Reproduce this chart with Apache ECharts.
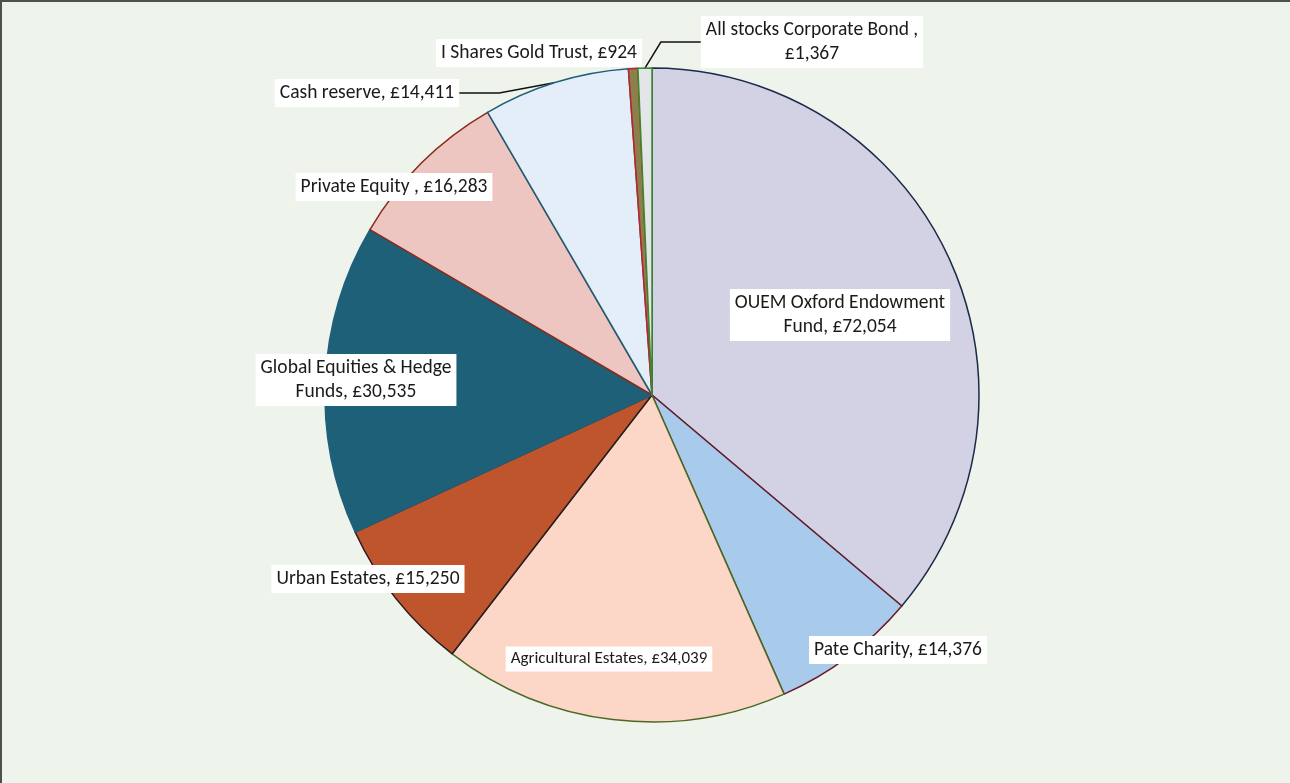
<!DOCTYPE html>
<html>
<head>
<meta charset="utf-8">
<title>Endowment holdings</title>
<script src="https://cdn.jsdelivr.net/npm/echarts@6/dist/echarts.min.js"></script>
<style>
    html, body { margin: 0; padding: 0; background: #eef4ec; }
    #chart {
        width: 1290px; height: 783px;
        border-top: 2px solid #4a524c;
        border-left: 2px solid #4a524c;
        box-sizing: border-box;
    }
</style>
</head>
<body>
<div id="chart"></div>
<script>
    // holdings, clockwise from 12 o'clock
    var names = [
        'OUEM Oxford Endowment\nFund',
        'Pate Charity',
        'Agricultural Estates',
        'Urban Estates',
        'Global Equities & Hedge\nFunds',
        'Private Equity ',
        'Cash reserve',
        'I Shares Gold Trust',
        'All stocks Corporate Bond ,\n'
    ]
    var values = [72054, 14376, 34039, 15250, 30535, 16283, 14411, 924, 1367]

    var fills = ['#d3d1e4', '#a8cbec', '#fcd6c7', '#bf552d', '#1f6079', '#edc5c1', '#e4eef8', '#8b7f4b', '#e4e5e8']
    var edges = ['#1b2a48', '#6b1a2a', '#4a6a22', '#2a1a22', '#1f5f7a', '#8a2a1a', '#1f5f7a', '#c0202a', '#3a8a2a']

    // where each label box sits (centre), and which ones have a leader
    var labelAt = [[838, 313], [896, 648], [607, 657], [366, 577], [354, 378], [392, 185], [365, 91], [537, 51], [810, 40]]
    var withLine = [false, false, false, false, false, false, true, false, true]

    function money(v) {
        return '£' + v.toLocaleString('en-GB')
    }

    var chart = echarts.init(document.getElementById('chart'))

    var data = values.map(function (v, i) {
        return {
            name: names[i],
            value: v,
            itemStyle: { color: fills[i], borderColor: edges[i] },
            label: {
                position: withLine[i] ? 'outside' : 'inside',
                fontSize: i === 2 ? 17 : 19.5,
                lineHeight: i === 2 ? 21 : 24
            },
            labelLine: { show: withLine[i] }
        }
    })

    chart.setOption({
        backgroundColor: '#eef4ec',
        animation: false,
        series: [{
            type: 'pie',
            center: [650, 393],
            radius: [0, 327],
            startAngle: 90,
            clockwise: true,
            avoidLabelOverlap: false,
            data: data,
            itemStyle: { borderWidth: 1.5 },
            label: {
                show: true,
                color: '#1a1a1a',
                fontFamily: 'Carlito, Lato, sans-serif',
                backgroundColor: '#ffffff',
                padding: [2, 5],
                align: 'center',
                formatter: function (p) {
                    var sep = p.name.slice(-1) === '\n' ? '' : ', '
                    return p.name + sep + money(p.value)
                }
            },
            labelLine: {
                length: 20,
                length2: 40,
                lineStyle: { color: '#111', width: 1.5 }
            },
            labelLayout: function (params) {
                var pos = labelAt[params.dataIndex]
                return { x: pos[0], y: pos[1], align: 'center', verticalAlign: 'middle' }
            }
        }]
    })
</script>
</body>
</html>
